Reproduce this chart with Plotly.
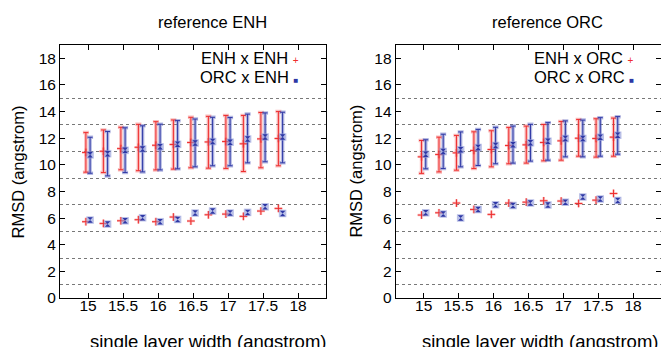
import numpy as np
import plotly.graph_objects as go
from plotly.subplots import make_subplots

# ---------------- data ----------------
widths = [15.0, 15.25, 15.5, 15.75, 16.0, 16.25, 16.5, 16.75, 17.0, 17.25, 17.5, 17.75]

# reference ENH panel
enh_enh_mean = [10.93, 11.02, 11.22, 11.32, 11.47, 11.53, 11.68, 11.72, 11.75, 11.58, 11.95, 11.98]
enh_enh_hi   = [12.42, 12.62, 12.82, 13.04, 13.24, 13.37, 13.57, 13.64, 13.71, 13.71, 13.93, 14.00]
enh_enh_lo   = [9.45, 9.42, 9.63, 9.56, 9.62, 9.68, 9.78, 9.75, 9.73, 9.50, 9.78, 9.93]
orc_enh_mean = [10.75, 10.84, 11.09, 11.19, 11.35, 11.54, 11.64, 11.75, 11.70, 11.94, 12.09, 12.09]
orc_enh_hi   = [12.07, 12.50, 12.78, 12.93, 13.05, 13.32, 13.44, 13.57, 13.55, 13.81, 13.90, 13.95]
orc_enh_lo   = [9.37, 9.17, 9.42, 9.47, 9.62, 9.70, 9.85, 9.93, 9.93, 10.15, 10.23, 10.15]
enh_enh_low  = [5.73, 5.60, 5.80, 5.88, 5.73, 6.08, 5.78, 6.25, 6.30, 6.13, 6.53, 6.73]
orc_enh_low  = [5.85, 5.55, 5.80, 6.03, 5.73, 5.90, 6.38, 6.53, 6.38, 6.43, 6.85, 6.35]

# reference ORC panel
enh_orc_mean = [10.60, 10.78, 10.90, 11.08, 11.15, 11.45, 11.50, 11.68, 11.80, 12.00, 11.98, 12.08]
enh_orc_hi   = [11.83, 12.08, 12.21, 12.48, 12.56, 12.81, 12.91, 13.03, 13.26, 13.41, 13.46, 13.51]
enh_orc_lo   = [9.36, 9.47, 9.60, 9.72, 9.85, 10.08, 10.13, 10.30, 10.35, 10.65, 10.58, 10.65]
orc_orc_mean = [10.80, 11.00, 11.13, 11.31, 11.45, 11.50, 11.65, 11.78, 11.98, 11.98, 12.08, 12.23]
orc_orc_hi   = [11.88, 12.30, 12.47, 12.66, 12.82, 12.91, 13.04, 13.17, 13.30, 13.36, 13.54, 13.62]
orc_orc_lo   = [9.70, 9.72, 9.85, 9.95, 10.08, 10.13, 10.28, 10.35, 10.60, 10.60, 10.65, 10.80]
enh_orc_low  = [6.23, 6.40, 7.13, 6.65, 6.28, 7.13, 7.20, 7.30, 7.28, 7.10, 7.35, 7.85]
orc_orc_low  = [6.40, 6.30, 6.00, 6.65, 7.00, 6.95, 7.13, 6.98, 7.20, 7.58, 7.43, 7.33]

panel_titles = ["reference ENH", "reference ORC"]
legend_names = [["ENH x ENH", "ORC x ENH"], ["ENH x ORC", "ORC x ORC"]]
x_tick_vals = [15, 15.5, 16, 16.5, 17, 17.5, 18]
x_tick_text = ["15", "15.5", "16", "16.5", "17", "17.5", "18"]
y_tick_vals = [0, 2, 4, 6, 8, 10, 12, 14, 16, 18]
grid_levels = [1, 3, 5, 7, 9, 11, 13, 15]
x_title = "single layer width (angstrom)"
y_title = "RMSD (angstrom)"

# ---------------- style ----------------
RED = "rgb(238,45,45)"
RED_LIGHT = "rgba(240,90,90,0.40)"
BLUE = "rgb(45,55,165)"
BLUE_LIGHT = "rgba(90,100,190,0.45)"
FONT = "Liberation Sans, Arial, Helvetica, sans-serif"
OFF = 0.03

fig = make_subplots(rows=1, cols=2, horizontal_spacing=0.116)

def add_series(col, xs, mean, hi, lo, low, color, light, kind):
    xs = np.asarray(xs)
    mean = np.asarray(mean)
    up = np.asarray(hi) - mean
    dn = mean - np.asarray(lo)
    # halo error bars
    fig.add_trace(go.Scatter(
        x=xs, y=mean, mode="markers", marker=dict(size=1, color="rgba(0,0,0,0)"),
        error_y=dict(type="data", symmetric=False, array=up, arrayminus=dn,
                     color=light, thickness=3.5, width=3),
        showlegend=False, hoverinfo="skip"), row=1, col=col)
    # core error bars
    fig.add_trace(go.Scatter(
        x=xs, y=mean, mode="markers", marker=dict(size=1, color="rgba(0,0,0,0)"),
        error_y=dict(type="data", symmetric=False, array=up, arrayminus=dn,
                     color=color, thickness=1, width=2.5),
        showlegend=False, hoverinfo="skip"), row=1, col=col)
    ally = np.concatenate([mean, np.asarray(low)])
    allx = np.concatenate([xs, xs])
    if kind == "plus":
        fig.add_trace(go.Scatter(
            x=allx, y=ally, mode="markers",
            marker=dict(symbol="cross-thin", size=5.5, line=dict(color=light, width=2.5)),
            showlegend=False, hoverinfo="skip"), row=1, col=col)
        fig.add_trace(go.Scatter(
            x=allx, y=ally, mode="markers",
            marker=dict(symbol="cross-thin", size=5.5, line=dict(color=color, width=1)),
            showlegend=False), row=1, col=col)
    else:
        fig.add_trace(go.Scatter(
            x=allx, y=ally, mode="markers",
            marker=dict(symbol="square", size=7.5, color="rgba(140,150,215,0.6)",
                        line=dict(width=0)),
            showlegend=False, hoverinfo="skip"), row=1, col=col)
        fig.add_trace(go.Scatter(
            x=allx, y=ally, mode="markers",
            marker=dict(symbol="hourglass", size=5.5, color=color, line=dict(width=0)),
            showlegend=False), row=1, col=col)

xr = np.asarray(widths) - OFF
xb = np.asarray(widths) + OFF
add_series(1, xr, enh_enh_mean, enh_enh_hi, enh_enh_lo, enh_enh_low, RED, RED_LIGHT, "plus")
add_series(1, xb, orc_enh_mean, orc_enh_hi, orc_enh_lo, orc_enh_low, BLUE, BLUE_LIGHT, "square")
add_series(2, xr, enh_orc_mean, enh_orc_hi, enh_orc_lo, enh_orc_low, RED, RED_LIGHT, "plus")
add_series(2, xb, orc_orc_mean, orc_orc_hi, orc_orc_lo, orc_orc_low, BLUE, BLUE_LIGHT, "square")

axis_common = dict(showline=True, linecolor="black", linewidth=1, mirror="allticks",
                   ticks="inside", ticklen=5, tickcolor="black", tickwidth=1,
                   showgrid=False, zeroline=False,
                   tickfont=dict(family=FONT, size=15.5, color="black"))
for c in (1, 2):
    fig.update_xaxes(range=[14.6, 18.4], tickmode="array", tickvals=x_tick_vals,
                     ticktext=x_tick_text, ticklabelstandoff=-7,
                     row=1, col=c, **axis_common)
    fig.update_yaxes(range=[0, 19], tickmode="array", tickvals=y_tick_vals,
                     minor=dict(tickmode="array", tickvals=grid_levels, showgrid=True,
                                gridcolor="rgb(120,120,120)", griddash="dot",
                                gridwidth=1, ticks=""),
                     row=1, col=c, **axis_common)

fig.update_xaxes(domain=[0.0, 0.4426], row=1, col=1)
fig.update_xaxes(domain=[0.5586, 1.0], row=1, col=2)

ann = []
tfont = dict(family=FONT, size=16.5, color="black")
for i, (tx, xt, yt) in enumerate([(0.253, 0.246, -0.0699), (0.811, 0.799, 0.491)]):
    ann.append(dict(text=panel_titles[i], x=tx, y=1.092, xref="paper", yref="paper",
                    xanchor="center", yanchor="middle", showarrow=False, font=tfont))
    ann.append(dict(text=x_title, x=xt, y=-0.172, xref="paper", yref="paper",
                    xanchor="center", yanchor="middle", showarrow=False,
                    font=dict(family=FONT, size=18.5, color="black")))
    ann.append(dict(text=y_title, x=yt, y=0.5, xref="paper", yref="paper",
                    xanchor="center", yanchor="middle", textangle=-90, showarrow=False,
                    font=tfont))
    # legends: text right-aligned, sample glyph on the right
    xd = "x domain" if i == 0 else "x2 domain"
    yd = "y domain" if i == 0 else "y2 domain"
    ann.append(dict(text=legend_names[i][0] + " <span style='color:%s;font-size:10px'>+</span>" % RED,
                    x=0.905, y=0.948, xref=xd, yref=yd, xanchor="right", yanchor="middle",
                    showarrow=False, font=tfont))
    ann.append(dict(text=legend_names[i][1] + " <span style='color:%s;font-size:8px'>&#9632;</span>" % BLUE,
                    x=0.905, y=0.875, xref=xd, yref=yd, xanchor="right", yanchor="middle",
                    showarrow=False, font=tfont))

fig.update_layout(
    width=661, height=347,
    margin=dict(l=60, r=0, t=45, b=49),
    paper_bgcolor="white", plot_bgcolor="white",
    annotations=ann, showlegend=False,
    font=dict(family=FONT, color="black"),
)

fig.write_html("out.html", config={"displayModeBar": False},
               post_script="document.body.style.margin='0';document.body.style.overflow='hidden';")
